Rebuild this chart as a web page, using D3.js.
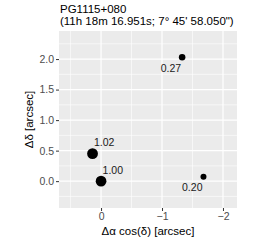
<!DOCTYPE html>
<html>
<head>
<meta charset="utf-8">
<script src="https://cdn.jsdelivr.net/npm/d3@7"></script>
<style>
  body { margin: 0; background: #fff; }
  text { font-family: "Liberation Sans", Arial, Helvetica, sans-serif; }
</style>
</head>
<body>
<main></main>
<script>
// Image positions relative to the lensing galaxy reference (arcsec)
const images = ['A1', 'A2', 'B', 'C'];
const dRA = [0.00, 0.14, -1.33, -1.68];
const dDec = [0.00, 0.45, 2.03, 0.07];
const flux = [1.00, 1.02, 0.27, 0.20];

const xTicks = [0, -1, -2];
const yTicks = [0, 0.5, 1, 1.5, 2];

const titleLines = ['PG1115+080', '(11h 18m 16.951s; 7° 45\' 58.050")'];

const width = 258;
const height = 244;
const margin = { top: 31, right: 21, bottom: 36, left: 59 };
const innerW = width - margin.left - margin.right;
const innerH = height - margin.top - margin.bottom;

const points = images.map((name, i) => ({
  name: name,
  x: dRA[i],
  y: dDec[i],
  flux: flux[i]
}));

const svg = d3.select('main')
  .append('svg')
  .attr('width', width)
  .attr('height', height);

// x is reversed (east to the left)
const x = d3.scaleLinear()
  .domain([0.69, -2.23])
  .range([0, innerW]);

const y = d3.scaleLinear()
  .domain([-0.44, 2.46])
  .range([innerH, 0]);

const r = d3.scaleRadial()
  .domain([0.2, 1.02])
  .range([3.0, 5.4]);

const g = svg.append('g')
  .attr('transform', `translate(${margin.left},${margin.top})`);

// Panel
g.append('rect')
  .attr('width', innerW)
  .attr('height', innerH)
  .attr('fill', '#ebebeb');

// Minor grid
const xMinor = [0.5, -0.5, -1.5];
const yMinor = [-0.25, 0.25, 0.75, 1.25, 1.75, 2.25];

g.selectAll('.xminor')
  .data(xMinor)
  .enter()
  .append('line')
  .attr('x1', d => x(d))
  .attr('x2', d => x(d))
  .attr('y1', 0)
  .attr('y2', innerH)
  .attr('stroke', '#fff')
  .attr('stroke-width', 0.6);

g.selectAll('.yminor')
  .data(yMinor)
  .enter()
  .append('line')
  .attr('x1', 0)
  .attr('x2', innerW)
  .attr('y1', d => y(d))
  .attr('y2', d => y(d))
  .attr('stroke', '#fff')
  .attr('stroke-width', 0.6);

// Major grid
g.selectAll('.xmajor')
  .data(xTicks)
  .enter()
  .append('line')
  .attr('x1', d => x(d))
  .attr('x2', d => x(d))
  .attr('y1', 0)
  .attr('y2', innerH)
  .attr('stroke', '#fff')
  .attr('stroke-width', 1.2);

g.selectAll('.ymajor')
  .data(yTicks)
  .enter()
  .append('line')
  .attr('x1', 0)
  .attr('x2', innerW)
  .attr('y1', d => y(d))
  .attr('y2', d => y(d))
  .attr('stroke', '#fff')
  .attr('stroke-width', 1.2);

// Axes
const xAxis = d3.axisBottom(x)
  .tickValues(xTicks)
  .tickSize(3)
  .tickPadding(2)
  .tickFormat(d => d3.format('d')(d).replace('-', '\u2212'));

const yAxis = d3.axisLeft(y)
  .tickValues(yTicks)
  .tickSize(3)
  .tickPadding(2)
  .tickFormat(d3.format('.1f'));

const gx = g.append('g')
  .attr('transform', `translate(0,${innerH})`)
  .call(xAxis);

const gy = g.append('g')
  .call(yAxis);

[gx, gy].forEach(ax => {
  ax.select('.domain').remove();
  ax.selectAll('.tick line').attr('stroke', '#333').attr('stroke-width', 1);
  ax.selectAll('.tick text')
    .attr('fill', '#4d4d4d')
    .style('font-size', '10.5px');
});

// Points
g.selectAll('circle')
  .data(points)
  .enter()
  .append('circle')
  .attr('cx', d => x(d.x))
  .attr('cy', d => y(d.y))
  .attr('r', d => r(d.flux))
  .attr('fill', '#000');

// Flux labels: bright images labelled above-right, faint ones below-left
g.selectAll('.label')
  .data(points)
  .enter()
  .append('text')
  .attr('x', d => x(d.x) + (d.flux > 0.5 ? 1.5 : -1))
  .attr('y', d => y(d.y) + (d.flux > 0.5 ? -7.5 : 14.6))
  .attr('text-anchor', d => d.flux > 0.5 ? 'start' : 'end')
  .style('font-size', '10.5px')
  .attr('fill', '#1a1a1a')
  .text(d => d.flux.toFixed(2));

// Axis titles
svg.append('text')
  .attr('x', margin.left + innerW / 2)
  .attr('y', 235)
  .attr('text-anchor', 'middle')
  .style('font-size', '11.5px')
  .text('\u0394\u03b1 cos(\u03b4) [arcsec]');

svg.append('text')
  .attr('transform', `translate(33,${margin.top + innerH / 2}) rotate(-90)`)
  .attr('text-anchor', 'middle')
  .style('font-size', '11.5px')
  .text('\u0394\u03b4 [arcsec]');

// Title
svg.append('g')
  .selectAll('text')
  .data(titleLines)
  .enter()
  .append('text')
  .attr('x', margin.left + 1)
  .attr('y', (d, i) => 12.5 + i * 12.5)
  .style('font-size', '11.5px')
  .text(d => d);
</script>
</body>
</html>
